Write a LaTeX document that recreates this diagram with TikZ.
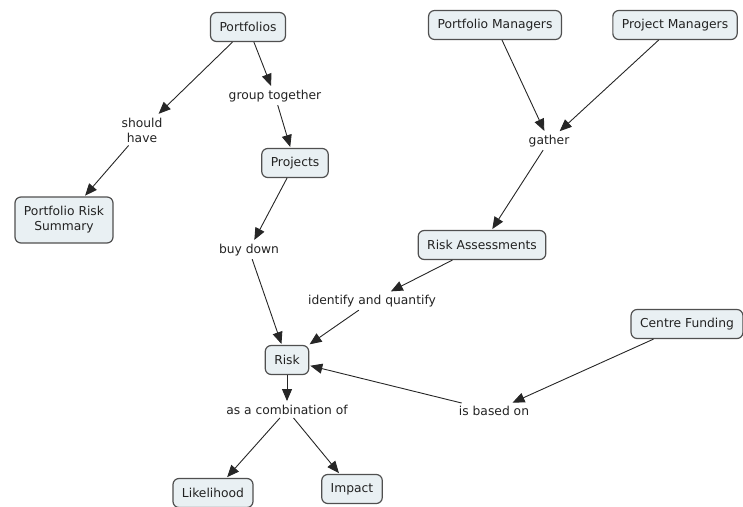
\documentclass[tikz,border=0pt]{standalone}
\usepackage{fontspec}
\setmainfont{DejaVu Sans}
\usetikzlibrary{arrows.meta}
\definecolor{boxfill}{HTML}{E9F0F3}
\definecolor{boxline}{HTML}{505050}
\definecolor{txt}{HTML}{222222}
\begin{document}
\begin{tikzpicture}[x=1pt,y=-1pt,
  concept/.style={draw=boxline,line width=1.2pt,fill=boxfill,rounded corners=6pt,
    minimum height=29pt,inner xsep=9pt,font=\fontsize{12.3}{15}\selectfont,text=txt,align=center},
  lnk/.style={font=\fontsize{12.3}{15}\selectfont,text=txt,align=center,inner sep=3pt},
  conn/.style={draw=black!85,line width=0.9pt,-{Triangle[length=12pt,width=10pt]},shorten >=1pt}]
\useasboundingbox (0,0) rectangle (743,506);
\node[concept] (portfolios) at (248,27) {Portfolios};
\node[concept] (pfm) at (495,25) {Portfolio Managers};
\node[concept] (prm) at (675,25) {Project Managers};
\node[concept,minimum height=46pt] (prs) at (64,220) {Portfolio Risk\\Summary};
\node[concept] (projects) at (295,163) {Projects};
\node[concept] (ra) at (482,245) {Risk Assessments};
\node[concept] (cf) at (687,324) {Centre Funding};
\node[concept] (risk) at (287,360) {Risk};
\node[concept] (like) at (213,493) {Likelihood};
\node[concept] (impact) at (352,489) {Impact};
\node[lnk] (should) at (142,130) {should\\have};
\node[lnk] (group) at (275,96) {group together};
\node[lnk] (gather) at (549,141) {gather};
\node[lnk] (buy) at (249,250) {buy down};
\node[lnk] (ident) at (372,301) {identify and quantify};
\node[lnk] (comb) at (287,410) {as a combination of};
\node[lnk] (based) at (494,411) {is based on};
\draw[conn] (portfolios) -- (should);
\draw[conn] (should) -- (prs);
\draw[conn] (portfolios) -- (group);
\draw[conn] (group) -- (projects);
\draw[conn] (projects) -- (buy);
\draw[conn] (buy) -- (risk);
\draw[conn] (pfm) -- (gather);
\draw[conn] (prm) -- (gather);
\draw[conn] (gather) -- (ra);
\draw[conn] (ra) -- (ident);
\draw[conn] (ident) -- (risk);
\draw[conn] (cf) -- (based);
\draw[conn] (based) -- (risk);
\draw[conn] (risk) -- (comb);
\draw[conn] (comb) -- (like);
\draw[conn] (comb) -- (impact);
\end{tikzpicture}
\end{document}
